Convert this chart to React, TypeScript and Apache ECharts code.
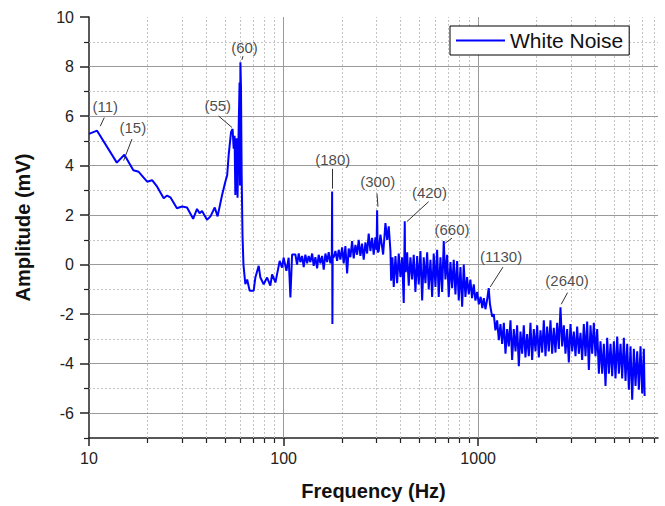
import React, { useEffect, useRef } from "react";
import * as echarts from "echarts";

// Frequency (Hz) and amplitude (mV)
const FREQ = [
  10, 11, 13.9, 15.2, 16.9, 18.0, 19.9, 21.1, 22.4, 24.2, 25.2, 26.2, 28.3, 30.1, 31.9, 34.3, 35.9, 37.0, 38.1, 40.4,
  42.1, 44.3, 45.8, 48.3, 50.2, 51.3, 52.2, 53.7, 54.7, 55.4, 56.0, 56.5, 57.4, 58.0, 58.8, 59.4, 59.7, 60.0, 60.4, 60.9,
  61.5, 62.2, 63.6, 65.0, 66.9, 70.2, 71.6, 74.5, 76.0, 79.0, 82.3, 85.5, 87.3, 90.8, 93.3, 95.5, 98.2, 100.1, 103.4, 106.2,
  108.4, 110.6,
  115.0, 117.3, 119.6, 122.0, 124.5, 126.9, 129.4, 132.1, 134.6, 137.3, 140.2, 142.8, 145.7, 148.7, 151.5, 154.6, 157.8,
  160.8, 164.1, 167.4, 170.6, 174.0, 177.0, 177.6, 178.2, 178.8, 181.0, 184.7, 188.4, 192.0, 195.9, 199.9, 203.7, 207.8,
  212.1, 216.1, 220.5, 225.0, 229.3, 234.0, 238.7, 243.3, 248.2, 253.2, 258.1, 263.4, 268.7, 273.8, 279.4, 285.1, 290.5,
  296.5, 300.5, 302.5, 304.5, 308.3, 314.6, 324.8, 333.8, 340.6, 347.1, 354.2, 357.1, 362.6, 368.3, 375.8, 383.4, 390.7,
  398.6, 406.7, 414.5, 417.5, 419.5, 421.5, 424.5, 431.5, 439.8, 448.7, 457.8, 466.6, 476.0, 485.8, 495.0, 505.1, 515.4,
  525.2, 535.8, 546.8, 557.2, 568.6, 580.1, 591.2, 603.2, 615.4, 627.2, 640.0, 653.0, 665.5, 679.0, 692.8, 706.0, 720.4,
  735.0, 749.1, 764.3, 779.8, 794.8, 811.0, 827.4, 843.3, 860, 877, 895, 912, 930, 949, 968, 988, 1008, 1030, 1050, 1069,
  1090, 1110, 1133, 1150, 1180,
  1203, 1227, 1252, 1277, 1302, 1328, 1355, 1382, 1409, 1437, 1466, 1495, 1525, 1556, 1586, 1618, 1650, 1683, 1716, 1750,
  1785, 1821, 1857, 1894, 1932, 1971, 2010, 2050, 2091, 2133, 2175, 2218, 2262, 2307, 2353, 2400, 2448, 2497, 2547, 2598,
  2649, 2702, 2756, 2811, 2867, 2924, 2982, 3042, 3102, 3164, 3227, 3291, 3357, 3424, 3492, 3562, 3633, 3706, 3779, 3855,
  3931, 4010, 4090, 4172, 4254, 4339, 4425, 4514, 4604, 4696, 4789, 4885, 4982, 5081, 5183, 5286, 5391, 5499, 5608, 5720,
  5834, 5951, 6068, 6190, 6312, 6439, 6567, 6699, 6831, 6968, 7106, 7170,
];

const AMP = [
  5.28, 5.41, 4.12, 4.44, 3.81, 3.75, 3.35, 3.41, 3.15, 2.68, 2.79, 2.72, 2.28, 2.35, 2.31, 1.85, 2.25, 2.08, 2.17, 1.81,
  1.95, 2.31, 1.95, 2.81, 3.35, 3.61, 4.41, 5.35, 5.48, 4.68, 5.2, 2.81, 5.1, 2.7, 5.6, 7.35, 3.2, 8.17, 7.2, 3.6,
  1.2, 0.0, -0.79, -0.6, -1.05, -1.05, -0.52, -0.05, -0.52, -0.79, -0.52, -0.85, -0.39, -0.72, -0.25, 0.15, -0.12, 0.28, -0.25, 0.28,
  -1.32, 0.41,
  0.41, 0.0, 0.45, 0.1, 0.35, -0.1, 0.4, 0.05, 0.35, 0.1, 0.45, -0.05, 0.3, -0.15, 0.4, 0.05, 0.35,
  -0.2, 0.45, 0.1, 0.5, 0.05, 0.4, 2.95, -2.4, 0.3, 0.3, 0.55, 0.15, 0.6, 0.2, 0.7, 0.05, 0.75,
  -0.35, 0.65, 0.3, 0.95, 0.25, 0.8, 0.4, 1.0, 0.35, 0.85, 0.2, 0.9, 0.45, 1.25, 0.55, 1.08, 0.4,
  1.1, 0.6, 2.2, 0.5, 0.55, 1.21, 0.41, 1.68, 1.0, 1.55, 0.55, -0.65, 0.3, -0.9, 0.35, -0.75, 0.45,
  -0.5, 0.3, -1.55, 0.2, 1.75, -0.2, -0.3, 0.5, -0.85, 0.3, -0.6, 0.4, -1.1, 0.35, -0.8, 0.55, -1.45,
  0.3, -0.75, 0.5, -1.0, 0.2, -1.3, 0.45, -0.9, 0.6, -1.3, 0.3, -1.1, 0.95, -0.6, 0.4, -1.3, 0.1,
  -0.95, 0.2, -1.2, 0.15, -1.45, -0.1, -1.7, 0.0, -1.3, -0.5, -1.2, -0.6, -1.35, -0.8, -1.45, -1.1, -1.6, -1.3, -1.75, -1.35,
  -1.8, -1.45, -0.95, -1.6, -2.1,
  -2.0, -2.65, -2.25, -3.05, -2.4, -3.2, -2.35, -3.6, -2.6, -3.3, -2.25, -3.85, -2.6, -3.5, -2.45, -4.1, -2.7, -3.6, -2.45, -3.75,
  -2.8, -3.7, -2.35, -3.85, -2.6, -3.5, -2.45, -3.75, -2.65, -3.55, -2.25, -3.7, -2.5, -3.5, -2.25, -3.6, -2.55, -3.55, -2.35, -3.4,
  -1.72, -3.3, -2.45, -3.6, -2.6, -3.95, -2.4, -3.5, -2.7, -3.7, -2.5, -3.6, -2.75, -3.85, -2.4, -3.7, -2.3, -4.25, -2.45, -3.6,
  -2.35, -3.7, -2.6, -4.4, -3.1, -4.4, -3.2, -4.9, -2.95, -4.4, -3.2, -4.5, -3.1, -4.6, -2.9, -4.4, -3.2, -4.6, -2.95, -4.7,
  -3.2, -5.05, -3.3, -5.45, -3.4, -4.9, -3.5, -5.05, -3.3, -5.2, -3.4, -5.3,
];

// Axis ticks
const X_MAJOR = [10, 100, 1000];
const X_MINOR = [20, 30, 40, 50, 60, 70, 80, 90, 200, 300, 400, 500, 600, 700, 800, 900, 2000, 3000, 4000, 5000, 6000, 7000, 8000];
const Y_MAJOR = [-6, -4, -2, 0, 2, 4, 6, 8];
const Y_MINOR = [-7, -5, -3, -1, 1, 3, 5, 7, 9];
const Y_LABELS = [-6, -4, -2, 0, 2, 4, 6, 8, 10];

// Peak annotations (label text, label anchor in data coords, leader line ends)
const PEAK_LABELS = ["(11)", "(15)", "(55)", "(60)", "(180)", "(300)", "(420)", "(660)", "(1130)", "(2640)"];
const LABEL_F = [12.13, 16.8, 45.9, 63.0, 178.9, 304.9, 562, 733.6, 1311, 2863];
const LABEL_V = [6.4, 5.54, 6.43, 8.77, 4.23, 3.34, 2.91, 1.43, 0.34, -0.66];
const LEADER_F1 = [11.98, 16.63, 46.35, 61.85, 177.9, 302, 556, 733.6, 1341, 2880];
const LEADER_V1 = [5.94, 5.07, 6.0, 8.42, 3.87, 2.87, 2.54, 1.07, -0.1, -1.13];
const LEADER_F2 = [11.43, 15.06, 54.3, 61.1, 177.9, 305.6, 430.7, 677.7, 1154, 2673];
const LEADER_V2 = [5.59, 4.2, 5.54, 8.27, 3.07, 2.34, 1.74, 0.87, -0.9, -1.6];

const FONT = "Arial, 'Liberation Sans', sans-serif";
const MAJOR_GRID = "#9a9a9a";
const MINOR_GRID = "#c4c4c4";

export default function App() {
  const ref = useRef<HTMLDivElement>(null);

  useEffect(() => {
    document.body.style.margin = "0";
    if (!ref.current) return;
    const chart = echarts.init(ref.current, null, { renderer: "svg" });

    const lineData = FREQ.map((f, i) => [f, AMP[i]]);
    const labelData = PEAK_LABELS.map((t, i) => ({ name: t, value: [LABEL_F[i], LABEL_V[i]] }));
    const leaderData = PEAK_LABELS.map((_, i) => ({
      coords: [
        [LEADER_F1[i], LEADER_V1[i]],
        [LEADER_F2[i], LEADER_V2[i]],
      ],
    }));

    const minorGrid = [
      ...X_MINOR.map((f) => ({ xAxis: f })),
      ...Y_MINOR.filter((v) => v > -7).map((v) => ({ yAxis: v })),
    ];
    const majorGrid = [
      ...X_MAJOR.filter((f) => f > 10).map((f) => ({ xAxis: f })),
      ...Y_MAJOR.map((v) => ({ yAxis: v })),
    ];

    const common = { min: 10, max: 8400, logBase: 10 };

    chart.setOption({
      animation: false,
      backgroundColor: "#fff",
      textStyle: { fontFamily: FONT },
      grid: { left: 89, right: 7, top: 17, bottom: 64, containLabel: false },
      legend: {
        data: ["White Noise"],
        left: 450,
        top: 26,
        padding: [4, 6, 4, 6],
        icon: "rect",
        itemWidth: 49,
        itemHeight: 2,
        itemGap: 5,
        borderColor: "#000",
        borderWidth: 1,
        backgroundColor: "#fff",
        textStyle: { fontSize: 21, color: "#111", fontFamily: FONT },
      },
      xAxis: [
        {
          type: "log",
          ...common,
          name: "Frequency (Hz)",
          nameLocation: "middle",
          nameGap: 43,
          nameTextStyle: { fontSize: 20, fontWeight: "bold", color: "#111", fontFamily: FONT },
          axisLine: { show: true, onZero: false, lineStyle: { color: "#222", width: 1.5 } },
          axisTick: { show: true, length: 8, customValues: X_MAJOR, lineStyle: { color: "#222", width: 1.5 } },
          axisLabel: {
            customValues: X_MAJOR,
            fontSize: 16,
            color: "#222",
            margin: 12,
            fontFamily: FONT,
            formatter: (v: number) => String(Math.round(v)),
          },
          splitLine: { show: false },
        },
        {
          type: "log",
          ...common,
          position: "bottom",
          axisLine: { show: false, onZero: false },
          axisTick: { show: true, length: 5, customValues: X_MINOR, lineStyle: { color: "#222", width: 1.2 } },
          axisLabel: { show: false },
          splitLine: { show: false },
        },
      ],
      yAxis: [
        {
          type: "value",
          min: -7,
          max: 10,
          name: "Amplitude (mV)",
          nameLocation: "middle",
          nameGap: 56,
          nameTextStyle: { fontSize: 20, fontWeight: "bold", color: "#111", fontFamily: FONT },
          axisLine: { show: true, onZero: false, lineStyle: { color: "#222", width: 1.5 } },
          axisTick: { show: true, length: 9, customValues: Y_LABELS, lineStyle: { color: "#222", width: 1.5 } },
          axisLabel: { customValues: Y_LABELS, fontSize: 16, color: "#222", margin: 15, fontFamily: FONT },
          splitLine: { show: false },
        },
        {
          type: "value",
          min: -7,
          max: 10,
          position: "left",
          axisLine: { show: false, onZero: false },
          axisTick: { show: true, length: 5, customValues: Y_MINOR, lineStyle: { color: "#222", width: 1.2 } },
          axisLabel: { show: false },
          splitLine: { show: false },
        },
      ],
      series: [
        {
          name: "White Noise",
          type: "line",
          data: lineData,
          symbol: "none",
          showSymbol: false,
          lineStyle: { color: "#0000ff", width: 2 },
          itemStyle: { color: "#0000ff" },
          z: 5,
          markLine: {
            silent: true,
            symbol: "none",
            label: { show: false },
            animation: false,
            data: [
              ...minorGrid.map((d) => ({ ...d, lineStyle: { color: MINOR_GRID, width: 1, type: [2, 2] } })),
              ...majorGrid.map((d) => ({ ...d, lineStyle: { color: MAJOR_GRID, width: 1, type: "solid" } })),
            ],
            z: 1,
          },
        },
        {
          name: "minorAxes",
          type: "line",
          xAxisIndex: 1,
          yAxisIndex: 1,
          data: [],
          silent: true,
        },
        {
          name: "leaders",
          type: "lines",
          coordinateSystem: "cartesian2d",
          data: leaderData,
          lineStyle: { color: "#333", width: 1, opacity: 1 },
          silent: true,
          z: 6,
        },
        {
          name: "labels",
          type: "scatter",
          data: labelData,
          symbol: "circle",
          symbolSize: 1,
          itemStyle: { color: "rgba(0,0,0,0)" },
          label: {
            show: true,
            position: "inside",
            formatter: "{b}",
            fontSize: 15,
            color: "#1a1a1a",
            fontFamily: FONT,
          },
          silent: true,
          z: 7,
        },
      ],
    });

    return () => chart.dispose();
  }, []);

  return <div ref={ref} style={{ width: 665, height: 506 }} />;
}
